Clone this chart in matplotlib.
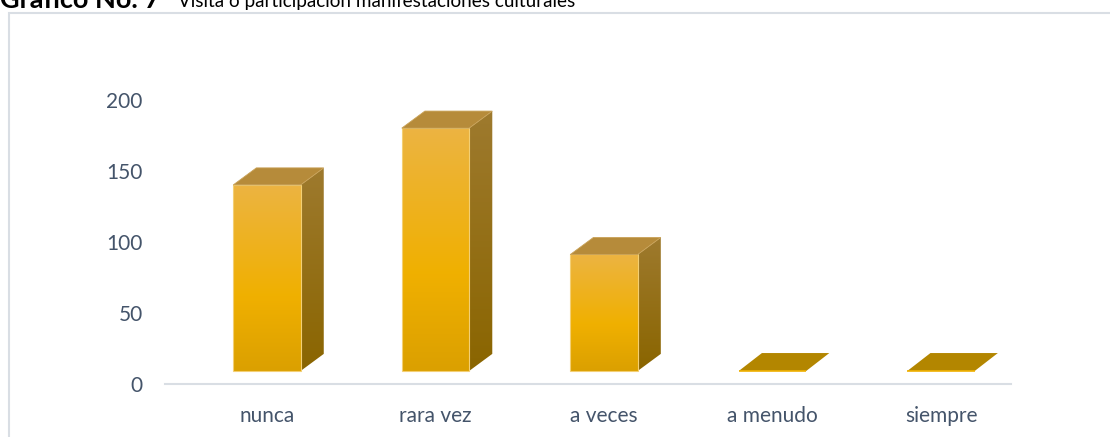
import numpy as np
import matplotlib
matplotlib.use("Agg")
import matplotlib.pyplot as plt
from matplotlib.patches import Polygon, Rectangle
from matplotlib.colors import LinearSegmentedColormap

plt.rcParams['font.family'] = ['Lato', 'DejaVu Sans']

# Data
categories = ['nunca', 'rara vez', 'a veces', 'a menudo', 'siempre']
values = [131, 171, 82, 0, 0]
yticks = [0, 50, 100, 150, 200]

W, H = 1110, 437
fig = plt.figure(figsize=(W / 100, H / 100), dpi=100)
fig.patch.set_facecolor('white')

# chart frame (runs off the right and bottom of the picture)
fig.patches.append(Rectangle((9 / W, -0.1), 1.2, 1 - 13 / H + 0.1,
                             transform=fig.transFigure, fill=False,
                             edgecolor='#D9DEE4', lw=1.5))

# title, partly cut off at the top
base = 1 - 7.5 / H
fig.text(0.0, base, 'Gráfico No. 7', fontsize=19.5, fontweight='bold',
         color='black', va='baseline', ha='left')
fig.text(178 / W, base, 'Visita o participación manifestaciones culturales',
         fontsize=13.6, color='black', va='baseline', ha='left')

# axes placed so that 0 sits at px 384 and 200 at px 100
ax = fig.add_axes([165 / W, (H - 384) / H, (1011 - 165) / W, (384 - 100) / H])
for s in ['top', 'right', 'left']:
    ax.spines[s].set_visible(False)
ax.spines['bottom'].set_color('#D9DEE4')
ax.spines['bottom'].set_linewidth(1.5)
ax.set_facecolor('none')

ax.set_yticks(yticks)
ax.set_yticklabels([str(v) for v in yticks])
ax.set_xticks(range(len(categories)))
ax.set_xticklabels(categories)
ax.tick_params(length=0, labelsize=15, colors='#44546A')
ax.tick_params(axis='y', pad=16)
ax.tick_params(axis='x', pad=16)

# pseudo 3d geometry
w = 0.40          # front face width (category units)
dx = 0.137        # depth offset in x
dy = 12.0         # depth offset in y
floor = 9.2       # bars start a little above the axis line

front_cmap = LinearSegmentedColormap.from_list(
    'front', [(0, '#DBA000'), (0.4, '#F0B000'), (1, '#ECB442')])
side_cmap = LinearSegmentedColormap.from_list(
    'side', [(0, '#8A6500'), (1, '#9E7A2E')])
grad = np.linspace(0, 1, 256).reshape(-1, 1)

for i, v in enumerate(values):
    x0, x1 = i - w / 2, i + w / 2
    top = floor + v
    if v > 0:
        # front face with vertical gradient
        im = ax.imshow(grad, cmap=front_cmap, origin='lower', aspect='auto',
                       extent=[x0, x1, floor, top], zorder=3)
        fr = Rectangle((x0, floor), w, v, facecolor='none',
                       edgecolor='#F3CF74', lw=0.8, zorder=4)
        ax.add_patch(fr)
        im.set_clip_path(fr)
        # side face
        side = Polygon([(x1, floor), (x1 + dx, floor + dy), (x1 + dx, top + dy),
                        (x1, top)], closed=True, facecolor='none',
                       edgecolor='none', zorder=3)
        ax.add_patch(side)
        ims = ax.imshow(grad, cmap=side_cmap, origin='lower', aspect='auto',
                        extent=[x1, x1 + dx, floor, top + dy], zorder=2)
        ims.set_clip_path(side)
        # top face
        ax.add_patch(Polygon([(x0, top), (x1, top), (x1 + dx, top + dy),
                              (x0 + dx, top + dy)], closed=True,
                             facecolor='#B68B3A', edgecolor='#C9A258',
                             lw=0.6, zorder=4))
    else:
        ax.add_patch(Polygon([(x0, top), (x1, top), (x1 + dx, top + dy * 1.05),
                              (x0 + dx, top + dy * 1.05)], closed=True,
                             facecolor='#B38600', edgecolor='none', zorder=4))
        ax.plot([x0, x1], [top, top], color='#F0B000', lw=1.2, zorder=5,
                solid_capstyle='butt')

ax.set_xlim(-0.605, 4.415)
ax.set_ylim(0, 200)

fig.savefig('out.png', dpi=100)
